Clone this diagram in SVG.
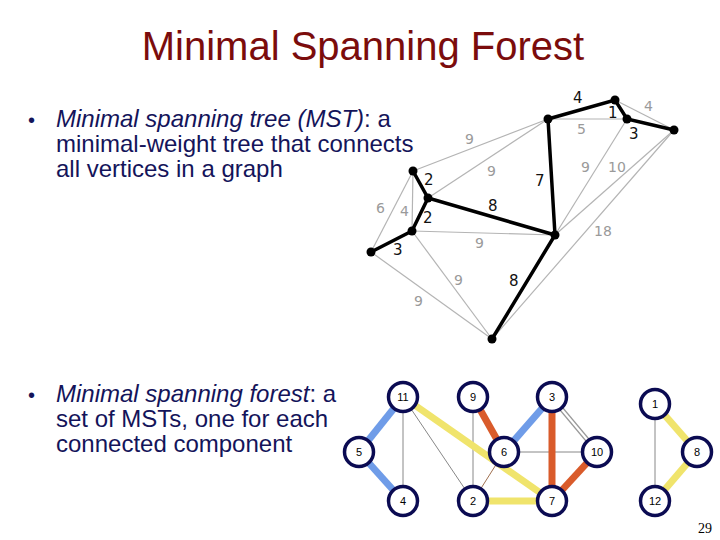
<svg xmlns="http://www.w3.org/2000/svg" width="720" height="540" viewBox="0 0 720 540">
<style>
.title{font-family:"Liberation Sans",Arial,sans-serif;font-size:40px;fill:#7b0c0c}
.body{font-family:"Liberation Sans",Arial,sans-serif;font-size:24px;fill:#14145a}
.bul{font-size:20px}
.g{stroke:#b4b4b4;stroke-width:1.2;fill:none}
.k{stroke:#000;stroke-width:3.5;fill:none;stroke-linecap:round}
.wb{font-family:"DejaVu Sans",sans-serif;font-size:15px;fill:#111}
.wg{font-family:"DejaVu Sans",sans-serif;font-size:14px;fill:#9a9a9a}
.blue{stroke:#6f9ce8;stroke-width:7}
.yel{stroke:#f0e46c;stroke-width:7}
.org{stroke:#d95b2b;stroke-width:7}
.thin{stroke:#888;stroke-width:1}
.nc{fill:#fff;stroke:#0b0b52;stroke-width:3.5}
.nl{font-family:"Liberation Sans",Arial,sans-serif;font-size:11px;fill:#000;text-anchor:middle}
</style>
<rect width="720" height="540" fill="#fff"/>
<text class="title" x="363" y="60" text-anchor="middle">Minimal Spanning Forest</text>
<g id="text1" class="body">
<text class="bul" x="28" y="127">•</text>
<text x="56" y="127"><tspan font-style="italic">Minimal spanning tree (MST)</tspan>: a</text>
<text x="56" y="152">minimal-weight tree that connects</text>
<text x="56" y="177">all vertices in a graph</text>
</g>
<g id="text2" class="body">
<text class="bul" x="28" y="402">•</text>
<text x="56" y="402"><tspan font-style="italic">Minimal spanning forest</tspan>: a</text>
<text x="56" y="427">set of MSTs, one for each</text>
<text x="56" y="452">connected component</text>
</g>
<g id="mst-connectors">
<line class="g" x1="413" y1="171" x2="548" y2="119"/>
<line class="g" x1="428" y1="198" x2="548" y2="119"/>
<line class="g" x1="548" y1="119" x2="627" y2="119"/>
<line class="g" x1="615" y1="100" x2="674" y2="130"/>
<line class="g" x1="627" y1="119" x2="555" y2="235"/>
<line class="g" x1="674" y1="130" x2="555" y2="235"/>
<line class="g" x1="674" y1="130" x2="492" y2="339"/>
<line class="g" x1="413" y1="171" x2="412" y2="231"/>
<line class="g" x1="413" y1="171" x2="371" y2="252"/>
<line class="g" x1="412" y1="231" x2="555" y2="235"/>
<line class="g" x1="412" y1="231" x2="492" y2="339"/>
<line class="g" x1="371" y1="252" x2="492" y2="339"/>
<polyline class="k" points="548,119 615,100 627,119 674,130"/>
<line class="k" x1="548" y1="119" x2="555" y2="235"/>
<polyline class="k" points="413,171 428,198 555,235"/>
<polyline class="k" points="428,198 412,231 371,252"/>
<line class="k" x1="555" y1="235" x2="492" y2="339"/>
</g>
<g id="mst-nodes" fill="#000">
<circle cx="413" cy="171" r="4.5"/>
<circle cx="428" cy="198" r="4.5"/>
<circle cx="412" cy="231" r="4.5"/>
<circle cx="371" cy="252" r="4.5"/>
<circle cx="492" cy="339" r="4.5"/>
<circle cx="555" cy="235" r="4.5"/>
<circle cx="548" cy="119" r="4.5"/>
<circle cx="615" cy="100" r="4.5"/>
<circle cx="627" cy="119" r="4.5"/>
<circle cx="674" cy="130" r="4.5"/>
</g>
<g id="mst-labels">
<text class="wb" x="573" y="103">4</text>
<text class="wb" x="608" y="118">1</text>
<text class="wb" x="629" y="139">3</text>
<text class="wb" x="535" y="186">7</text>
<text class="wb" x="424" y="185">2</text>
<text class="wb" x="488" y="211">8</text>
<text class="wb" x="423" y="223">2</text>
<text class="wb" x="393" y="255">3</text>
<text class="wb" x="509" y="286">8</text>
<text class="wg" x="465" y="144">9</text>
<text class="wg" x="487" y="176">9</text>
<text class="wg" x="577" y="134">5</text>
<text class="wg" x="644" y="111">4</text>
<text class="wg" x="581" y="172">9</text>
<text class="wg" x="608" y="172">10</text>
<text class="wg" x="376" y="213">6</text>
<text class="wg" x="400" y="216">4</text>
<text class="wg" x="475" y="248">9</text>
<text class="wg" x="594" y="236">18</text>
<text class="wg" x="454" y="285">9</text>
<text class="wg" x="414" y="306">9</text>
</g>
<g id="forest-connectors" stroke-linecap="butt">
<line class="thin" x1="403" y1="397" x2="403" y2="501"/>
<line class="thin" x1="403" y1="397" x2="473" y2="501"/>
<line class="thin" x1="473" y1="397" x2="473" y2="501"/>
<line stroke="#a07050" stroke-width="1" x1="504" y1="452" x2="473" y2="501"/>
<line class="thin" x1="504" y1="452" x2="597" y2="452"/>
<line class="thin" x1="655" y1="404" x2="655" y2="501"/>
<line stroke="#999" stroke-width="1.2" x1="552.5" y1="395.5" x2="598.5" y2="450.5"/>
<line stroke="#999" stroke-width="1.2" x1="550" y1="398" x2="596" y2="453"/>
<line class="blue" x1="403" y1="397" x2="359" y2="452"/>
<line class="blue" x1="359" y1="452" x2="403" y2="501"/>
<line class="blue" x1="552" y1="397" x2="504" y2="452"/>
<line class="yel" x1="406" y1="399" x2="552" y2="501"/>
<line class="yel" x1="473" y1="501" x2="552" y2="501"/>
<line class="yel" x1="655" y1="404" x2="697" y2="452"/>
<line class="yel" x1="697" y1="452" x2="655" y2="501"/>
<line class="org" x1="473" y1="397" x2="504" y2="452"/>
<line class="org" x1="552" y1="397" x2="552" y2="501"/>
<line class="org" x1="597" y1="452" x2="552" y2="501"/>
</g>
<g id="n11"><circle class="nc" cx="403" cy="397" r="14.5"/><text class="nl" x="403" y="401">11</text></g>
<g id="n9"><circle class="nc" cx="473" cy="397" r="14.5"/><text class="nl" x="473" y="401">9</text></g>
<g id="n3"><circle class="nc" cx="552" cy="397" r="14.5"/><text class="nl" x="552" y="401">3</text></g>
<g id="n1"><circle class="nc" cx="655" cy="404" r="14.5"/><text class="nl" x="655" y="408">1</text></g>
<g id="n5"><circle class="nc" cx="359" cy="452" r="14.5"/><text class="nl" x="359" y="456">5</text></g>
<g id="n6"><circle class="nc" cx="504" cy="452" r="14.5"/><text class="nl" x="504" y="456">6</text></g>
<g id="n10"><circle class="nc" cx="597" cy="452" r="14.5"/><text class="nl" x="597" y="456">10</text></g>
<g id="n8"><circle class="nc" cx="697" cy="452" r="14.5"/><text class="nl" x="697" y="456">8</text></g>
<g id="n4"><circle class="nc" cx="403" cy="501" r="14.5"/><text class="nl" x="403" y="505">4</text></g>
<g id="n2"><circle class="nc" cx="473" cy="501" r="14.5"/><text class="nl" x="473" y="505">2</text></g>
<g id="n7"><circle class="nc" cx="552" cy="501" r="14.5"/><text class="nl" x="552" y="505">7</text></g>
<g id="n12"><circle class="nc" cx="655" cy="501" r="14.5"/><text class="nl" x="655" y="505">12</text></g>
<text x="712" y="533" text-anchor="end" font-family="Liberation Serif,serif" font-size="14" fill="#000">29</text>
</svg>
